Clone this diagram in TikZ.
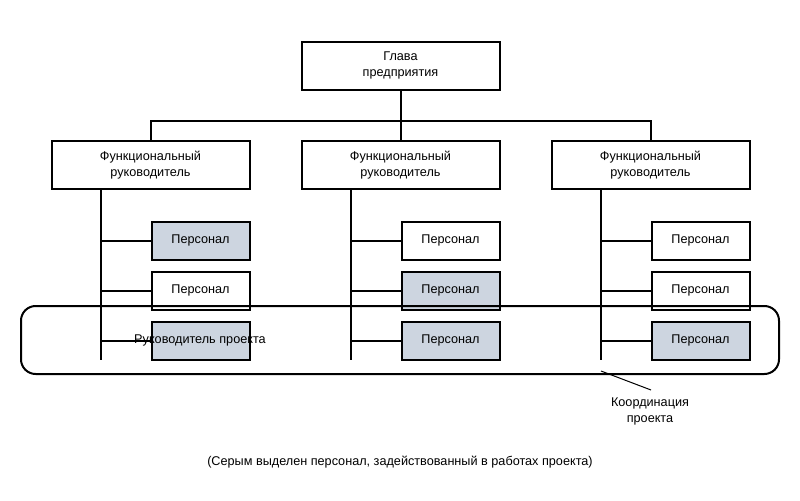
\documentclass[tikz,border=0pt]{standalone}
\usepackage{fontspec}
\setmainfont{Liberation Sans}
\begin{document}
\begin{tikzpicture}[x=0.75pt,y=-0.75pt,
  box/.style={draw,line width=1.5pt,minimum width=148.5pt,minimum height=36pt,align=center,font=\fontsize{9.5}{12}\selectfont,inner sep=0pt},
  pbox/.style={draw,line width=1.5pt,minimum width=73.5pt,minimum height=28.5pt,font=\fontsize{9.5}{12}\selectfont,inner sep=0pt},
  g/.style={fill=gfill},
  ln/.style={line width=1.5pt}]
\definecolor{gfill}{HTML}{CDD5E0}
\useasboundingbox (0,0) rectangle (800,500);
\node[box] (top) at (400.5,65.5) {Глава\\предприятия};
\foreach \i/\x in {1/150.5,2/400.5,3/650.5}{
  \node[box] (f\i) at (\x,165) {Функциональный\\руководитель};
}
\coordinate (h) at (400.5,121);
\draw[ln] (top.south) -- (h);
\draw[ln] (f1.north) |- (h) -| (f3.north);
\draw[ln] (f2.north) -- (h);
% personnel
\foreach \i/\x/\a/\b/\c in {1/150.5/g//g,2/400.5//g/g,3/650.5///g}{
  \node[pbox,\a] (p\i a) at (\x+50,240.5) {Персонал};
  \ifnum\i=1
    \node[pbox,\b] (p\i b) at (\x+50,290.5) {Персонал};
    \node[pbox,\c] (p\i c) at (\x+50,340.5) {};
  \else
    \node[pbox,\b] (p\i b) at (\x+50,290.5) {Персонал};
    \node[pbox,\c] (p\i c) at (\x+50,340.5) {Персонал};
  \fi
  \coordinate (v\i) at (\x-49.5,360);
  \draw[ln] (\x-49.5,189) -- (v\i);
  \draw[ln] (\x-49.5,240.5) -- (p\i a.west);
  \draw[ln] (\x-49.5,290.5) -- (p\i b.west);
  \draw[ln] (\x-49.5,340.5) -- (p\i c.west);
}
\node[font=\fontsize{9.5}{12}\selectfont] (rp) at (200,340.5) {Руководитель проекта};
\draw[line width=1.5pt,rounded corners=11pt] (21,306) rectangle (779,374);
\coordinate (ca) at (601,371);
\node[align=center,font=\fontsize{9.5}{12}\selectfont] (coord) at (650,411) {Координация\\проекта};
\draw[line width=0.75pt] (ca) -- (651,390);
\node[font=\fontsize{9.5}{12}\selectfont] (cap) at (400,462) {(Серым выделен персонал, задействованный в работах проекта)};
\end{tikzpicture}
\end{document}
